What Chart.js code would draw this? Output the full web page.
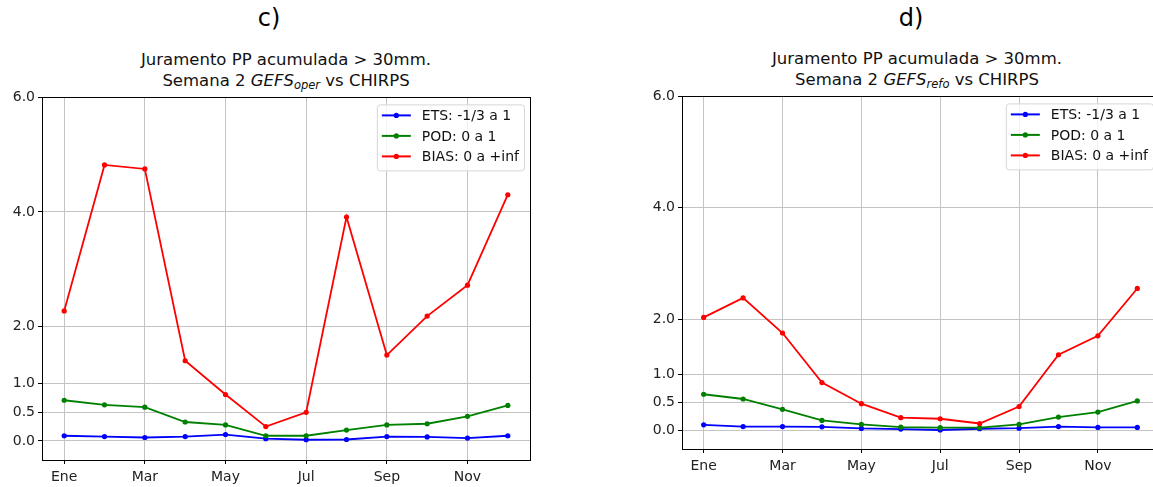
<!DOCTYPE html>
<html>
<head>
<meta charset="utf-8">
<script src="https://cdn.jsdelivr.net/npm/chart.js@4.4.1/dist/chart.umd.min.js"></script>
<style>
  html, body { margin: 0; padding: 0; background: #fff; }
  body { width: 1153px; height: 487px; overflow: hidden; position: relative; font-family: "DejaVu Sans", sans-serif; color: #000; }
  canvas { position: absolute; }
  .letter { position: absolute; top: 2px; width: 100px; text-align: center; font-size: 24px; line-height: 32px; }
  .title { position: absolute; top: 50px; width: 500px; text-align: center; font-size: 16.5px; line-height: 20.5px; color: #111; }
  .title sub { font-size: 11.5px; vertical-align: -3px; line-height: 0; }
</style>
</head>
<body>
<div class="letter" style="left:219px">c)</div>
<div class="title" style="left:36px">Juramento PP acumulada &gt; 30mm.<br>Semana 2 <i>GEFS<sub>oper</sub></i> vs CHIRPS</div>
<canvas id="chartL" width="560" height="401" style="left:0px;top:86px"></canvas>

<div class="letter" style="left:861px">d)</div>
<div class="title" style="left:667px;top:49px">Juramento PP acumulada &gt; 30mm.<br>Semana 2 <i>GEFS<sub>refo</sub></i> vs CHIRPS</div>
<canvas id="chartR" width="549" height="391" style="left:640px;top:85px"></canvas>

<script>
// months on the x axis (1 = Ene ... 12 = Dic)
var MONTHS = [1, 2, 3, 4, 5, 6, 7, 8, 9, 10, 11, 12];
var X_TICKS = [1, 3, 5, 7, 9, 11];
var X_LABELS = ['Ene', 'Mar', 'May', 'Jul', 'Sep', 'Nov'];
var Y_TICKS = [0, 0.5, 1, 2, 4, 6];
var SERIES_NAMES = ['ETS: -1/3 a 1', 'POD: 0 a 1', 'BIAS: 0 a +inf'];
var SERIES_COLORS = ['#0000ff', '#008000', '#ff0000'];

// c) GEFS oper
var ETS_OPER  = [0.09, 0.075, 0.06, 0.075, 0.11, 0.04, 0.02, 0.025, 0.075, 0.07, 0.05, 0.09];
var POD_OPER  = [0.71, 0.63, 0.59, 0.33, 0.28, 0.09, 0.09, 0.19, 0.28, 0.30, 0.43, 0.62];
var BIAS_OPER = [2.27, 4.82, 4.75, 1.40, 0.81, 0.25, 0.50, 3.91, 1.50, 2.18, 2.72, 4.30];

// d) GEFS refo
var ETS_REFO  = [0.10, 0.07, 0.07, 0.065, 0.036, 0.024, 0.008, 0.03, 0.04, 0.07, 0.054, 0.054];
var POD_REFO  = [0.65, 0.565, 0.38, 0.18, 0.11, 0.06, 0.05, 0.05, 0.11, 0.24, 0.33, 0.53];
var BIAS_REFO = [2.03, 2.38, 1.75, 0.86, 0.48, 0.23, 0.21, 0.125, 0.43, 1.36, 1.70, 2.55];

var TICK_FONT = { family: 'DejaVu Sans', size: 14 };

function toPoints(values) {
  return values.map(function(v, i) { return { x: MONTHS[i], y: v }; });
}

// matplotlib style box around the axes plus the legend in the upper right
var frameLegend = {
  id: 'frameLegend',
  afterDatasetsDraw: function(chart) {
    var ctx = chart.ctx, a = chart.chartArea;
    ctx.save();
    ctx.strokeStyle = '#000';
    ctx.lineWidth = 1;
    ctx.strokeRect(Math.round(a.left) + 0.5, Math.round(a.top) + 0.5,
                   Math.round(a.right - a.left), Math.round(a.bottom - a.top));

    ctx.font = '14px "DejaVu Sans"';
    var sets = chart.data.datasets;
    var maxW = 0;
    sets.forEach(function(d) { maxW = Math.max(maxW, ctx.measureText(d.label).width); });
    var w = 45 + maxW + 5, h = 66;
    var right = a.right - 6, top = a.top + 7;
    var left = right - w;

    ctx.beginPath();
    if (ctx.roundRect) ctx.roundRect(left + 0.5, top + 0.5, w, h, 3);
    else ctx.rect(left + 0.5, top + 0.5, w, h);
    ctx.fillStyle = 'rgba(255,255,255,0.8)';
    ctx.fill();
    ctx.strokeStyle = '#d6d6d6';
    ctx.stroke();

    ctx.textBaseline = 'middle';
    ctx.textAlign = 'left';
    sets.forEach(function(d, i) {
      var y = top + 11 + i * 20.5;
      ctx.strokeStyle = d.borderColor;
      ctx.lineWidth = 2;
      ctx.beginPath();
      ctx.moveTo(left + 5, y);
      ctx.lineTo(left + 34, y);
      ctx.stroke();
      ctx.fillStyle = d.borderColor;
      ctx.beginPath();
      ctx.arc(left + 19.5, y, 2.6, 0, Math.PI * 2);
      ctx.fill();
      ctx.fillStyle = '#111';
      ctx.fillText(d.label, left + 45, y + 1);
    });
    ctx.restore();
  }
};

function makeChart(id, ets, pod, bias, axisWidth) {
  var values = [ets, pod, bias];
  var datasets = values.map(function(vals, i) {
    return {
      label: SERIES_NAMES[i],
      data: toPoints(vals),
      borderColor: SERIES_COLORS[i],
      backgroundColor: SERIES_COLORS[i],
      borderWidth: 1.8,
      pointRadius: 2.6,
      pointBorderWidth: 0,
      pointBackgroundColor: SERIES_COLORS[i],
      tension: 0,
      order: 2 - i
    };
  });

  return new Chart(document.getElementById(id), {
    type: 'line',
    data: { datasets: datasets },
    plugins: [frameLegend],
    options: {
      responsive: false,
      animation: false,
      devicePixelRatio: 1,
      layout: { padding: { top: 10, right: 30, bottom: 0, left: 0 } },
      plugins: { legend: { display: false }, tooltip: { enabled: false }, title: { display: false } },
      scales: {
        x: {
          type: 'linear',
          min: 0.45,
          max: 12.55,
          afterBuildTicks: function(scale) {
            scale.ticks = X_TICKS.map(function(v) { return { value: v }; });
          },
          afterFit: function(scale) { scale.height = 27; },
          ticks: {
            font: TICK_FONT,
            color: '#222',
            padding: 5,
            maxRotation: 0,
            autoSkip: false,
            callback: function(v) { return X_LABELS[X_TICKS.indexOf(v)]; }
          },
          grid: { color: '#c4c4c4', lineWidth: 1, tickLength: 4, tickColor: '#000' },
          border: { display: false }
        },
        y: {
          type: 'linear',
          min: -1 / 3,
          max: 6,
          afterBuildTicks: function(scale) {
            scale.ticks = Y_TICKS.map(function(v) { return { value: v }; });
          },
          afterFit: function(scale) { scale.width = axisWidth; },
          ticks: {
            font: TICK_FONT,
            color: '#222',
            padding: 3,
            autoSkip: false,
            callback: function(v) { return v.toFixed(1); }
          },
          grid: { color: '#c4c4c4', lineWidth: 1, tickLength: 4, tickColor: '#000' },
          border: { display: false }
        }
      }
    }
  });
}

makeChart('chartL', ETS_OPER, POD_OPER, BIAS_OPER, 42);
makeChart('chartR', ETS_REFO, POD_REFO, BIAS_REFO, 42);
</script>
</body>
</html>
